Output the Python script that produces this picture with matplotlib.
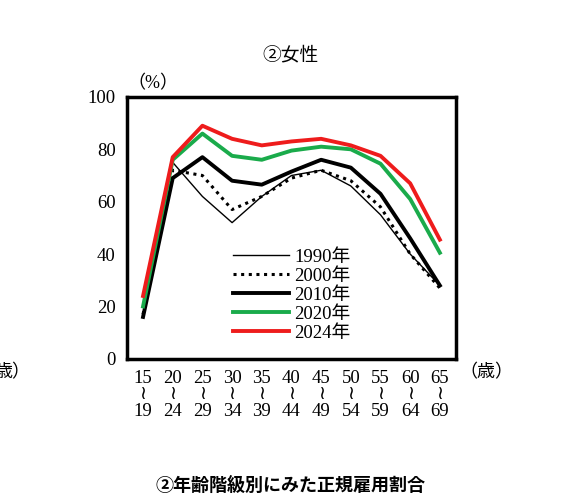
import matplotlib
matplotlib.use("Agg")
import matplotlib.pyplot as plt

plt.rcParams["font.family"] = ["Liberation Serif", "Noto Sans CJK JP", "DejaVu Sans"]

age_top = ["15", "20", "25", "30", "35", "40", "45", "50", "55", "60", "65"]
age_bottom = ["19", "24", "29", "34", "39", "44", "49", "54", "59", "64", "69"]

y1990 = [17, 75, 62, 52, 62, 70, 72, 66, 55, 40, 28]
y2000 = [17, 72, 70, 57, 62, 69, 72, 68, 58, 40, 27]
y2010 = [16, 69, 77, 68, 66.5, 71.5, 76, 73, 63, 46, 28]
y2020 = [20, 76, 86, 77.5, 76, 79.5, 81, 80, 74.5, 61, 40.5]
y2024 = [24, 77, 89, 84, 81.5, 83, 84, 81.5, 77.5, 67, 45.5]

fig = plt.figure(figsize=(5.76, 4.97), dpi=100)
ax = fig.add_axes([0.220, 0.278, 0.572, 0.527])
x = range(len(age_top))

ax.plot(x, y1990, color="black", lw=1.0, label="1990年")
ax.plot(x, y2000, color="black", lw=2.2, ls=(0, (1, 1.5)), label="2000年")
ax.plot(x, y2010, color="black", lw=2.8, label="2010年")
ax.plot(x, y2020, color="#1aab4b", lw=2.8, label="2020年")
ax.plot(x, y2024, color="#ee1c1c", lw=2.8, label="2024年")

ax.set_xlim(-0.55, 10.55)
ax.set_ylim(0, 100)
ax.set_yticks(range(0, 101, 20))
ax.set_xticks(list(x))
ax.set_xticklabels([f"{a}\n≀\n{b}" for a, b in zip(age_top, age_bottom)],
                   linespacing=0.95)
ax.tick_params(length=0, labelsize=13.5, pad=8)
for s in ax.spines.values():
    s.set_linewidth(2.5)

ax.legend(loc="lower left", bbox_to_anchor=(0.27, 0.0), frameon=False,
          fontsize=13.5, handlelength=3.0, labelspacing=0.1, handletextpad=0.3)

fig.text(0.266, 0.822, "（%）", fontsize=13, ha="center")
fig.text(0.845, 0.24, "（歳）", fontsize=13, ha="center")
fig.text(-0.01, 0.24, "歳）", fontsize=13, ha="left")
fig.text(0.505, 0.878, "②女性", fontsize=13.5, ha="center")
fig.text(0.505, 0.012, "②年齢階級別にみた正規雇用割合", fontsize=13, ha="center",
         family=["Noto Sans CJK JP"], weight="bold")

fig.savefig("out.png", dpi=100)
